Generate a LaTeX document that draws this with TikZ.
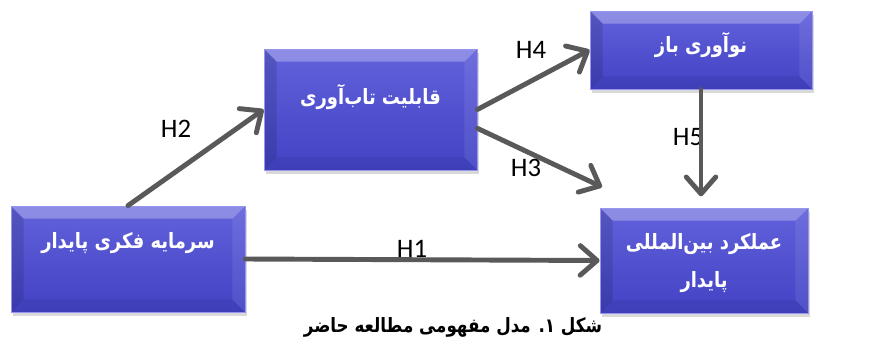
\documentclass[tikz,border=0pt]{standalone}
\usepackage{fontspec}
\usetikzlibrary{arrows.meta,shadows}
\TeXXeTstate=1
\newfontfamily\arabicfont[Script=Arabic,FakeStretch=0.85]{DejaVu Sans}
\newfontfamily\hfont{Carlito}
\definecolor{boxlight}{RGB}{98,98,220}
\definecolor{boxdark}{RGB}{66,66,196}
\definecolor{boxedge}{RGB}{150,150,238}
\definecolor{arrowgray}{RGB}{89,89,89}

\begin{document}
\begin{tikzpicture}[x=0.025cm,y=-0.025cm,
    box/.style={inner sep=0pt, align=center, text=white,
      font=\arabicfont\bfseries\fontsize{15}{30}\selectfont,
      top color=boxlight, bottom color=boxdark, draw=boxedge, line width=0.6pt,
      drop shadow={shadow xshift=1.5pt, shadow yshift=-2.5pt, opacity=0.3},
      path picture={
        \coordinate (nw) at (path picture bounding box.north west);
        \coordinate (ne) at (path picture bounding box.north east);
        \coordinate (sw) at (path picture bounding box.south west);
        \coordinate (se) at (path picture bounding box.south east);
        \fill[white,opacity=0.28] (nw) -- (ne) -- ([shift={(-9pt,-9pt)}]ne) -- ([shift={(9pt,-9pt)}]nw) -- cycle;
        \fill[black,opacity=0.12] (nw) -- ([shift={(9pt,-9pt)}]nw) -- ([shift={(9pt,9pt)}]sw) -- (sw) -- cycle;
        \fill[white,opacity=0.08] (ne) -- ([shift={(-9pt,-9pt)}]ne) -- ([shift={(-9pt,9pt)}]se) -- (se) -- cycle;
        \fill[black,opacity=0.06] (sw) -- ([shift={(9pt,9pt)}]sw) -- ([shift={(-9pt,9pt)}]se) -- (se) -- cycle;
      }},
    hyp/.style={font=\hfont\fontsize{19}{21}\selectfont, inner sep=0pt}]
  \useasboundingbox (0,0) rectangle (873,342);
  \draw
    (128,259) node[box, minimum width=234*0.025cm, minimum height=106*0.025cm] (capital)
      {\raisebox{11pt}[\height][\depth]{\beginR سرمایه فکری پایدار\endR}}
    (370.5,109.5) node[box, minimum width=213*0.025cm, minimum height=121*0.025cm] (resil)
      {\raisebox{9pt}[\height][\depth]{\beginR قابلیت تاب‌آوری\endR}}
    (701,50) node[box, minimum width=222*0.025cm, minimum height=78*0.025cm] (innov)
      {\raisebox{3.5pt}[\height][\depth]{\beginR نوآوری باز\endR}}
    (704,260.5) node[box, minimum width=208*0.025cm, minimum height=105*0.025cm] (perf)
      {\raisebox{-3pt}[\height][\depth]{\beginR عملکرد بین‌المللی\endR}\\ \beginR پایدار\endR};
  \draw
    (412,249) node[hyp] (h1) {H1}
    (176,129) node[hyp] (h2) {H2}
    (526,168) node[hyp] (h3) {H3}
    (531,50) node[hyp] (h4) {H4}
    (688,137) node[hyp] (h5) {H5}
    (453,327) node[font=\arabicfont\bfseries\fontsize{14}{16}\selectfont, inner sep=0pt] (cap)
      {\beginR شکل ۱. مدل مفهومی مطالعه حاضر\endR};
  \coordinate (h3tip) at (602,187);
  \begin{scope}[-{Straight Barb[length=12pt,width=21pt,round]}, draw=arrowgray, line width=3.5pt, line cap=round]
    \draw (capital.east) to (perf.west);
    \draw (capital.north) to (resil.west);
    \draw (resil.-10) to (h3tip);
    \draw (resil.east) to (innov.west);
    \draw[shorten >=8pt] (innov.south) to (innov.south |- perf.north);
  \end{scope}
\end{tikzpicture}
\end{document}
